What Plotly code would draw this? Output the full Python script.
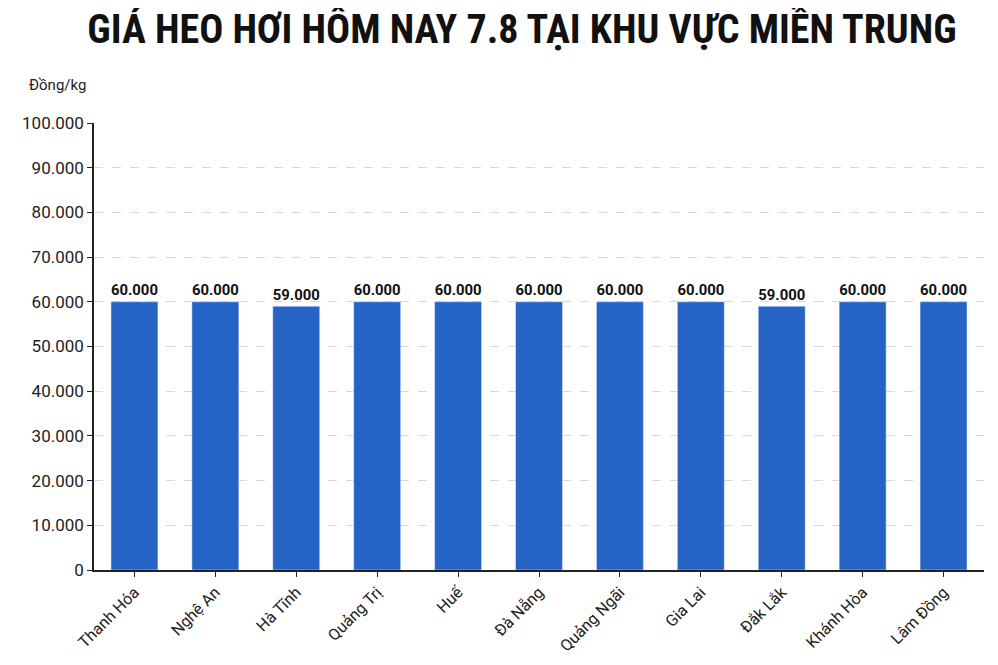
import plotly.graph_objects as go

provinces = ['Thanh Hóa', 'Nghệ An', 'Hà Tĩnh', 'Quảng Trị', 'Huế', 'Đà Nẵng',
             'Quảng Ngãi', 'Gia Lai', 'Đắk Lắk', 'Khánh Hòa', 'Lâm Đồng']
prices = [60000, 60000, 59000, 60000, 60000, 60000, 60000, 60000, 59000, 60000, 60000]
price_labels = ['{:,}'.format(p).replace(',', '.') for p in prices]

fig = go.Figure(go.Bar(
    x=provinces, y=prices, marker_color='#2563c4', width=0.58,
    text=price_labels, textposition='outside', cliponaxis=False,
    textfont=dict(size=17, color='#111', family='Roboto', weight='bold'),
))
fig.update_layout(
    width=998, height=665, separators=',.',
    paper_bgcolor='white', plot_bgcolor='white',
    margin=dict(l=86, r=22, t=115, b=103),
    title=dict(text='<b>GIÁ HEO HƠI HÔM NAY 7.8 TẠI KHU VỰC MIỀN TRUNG</b>',
               x=0.515, xanchor='center', y=0.99, yanchor='top',
               font=dict(size=40, color='#111', family='Roboto Condensed, Roboto')),
    xaxis=dict(tickangle=-45, showline=True, linecolor='#222', linewidth=1.5,
               ticks='outside', tickcolor='#222', ticklen=5,
               tickfont=dict(size=16, color='#222', family='Roboto')),
    yaxis=dict(range=[0, 100000], dtick=10000, tickformat=',d',
               showline=True, linecolor='#222', linewidth=1.5,
               ticks='outside', tickcolor='#222', ticklen=5,
               gridcolor='#d8d8d8', griddash='dash',
               tickfont=dict(size=17, color='#222', family='Roboto')),
    showlegend=False,
)
fig.add_annotation(text='Đồng/kg', xref='paper', yref='paper', x=-0.075, y=1.06,
                   xanchor='left', yanchor='bottom', showarrow=False,
                   font=dict(size=15, color='#222', family='Roboto'))
fig.write_html('out.html')
